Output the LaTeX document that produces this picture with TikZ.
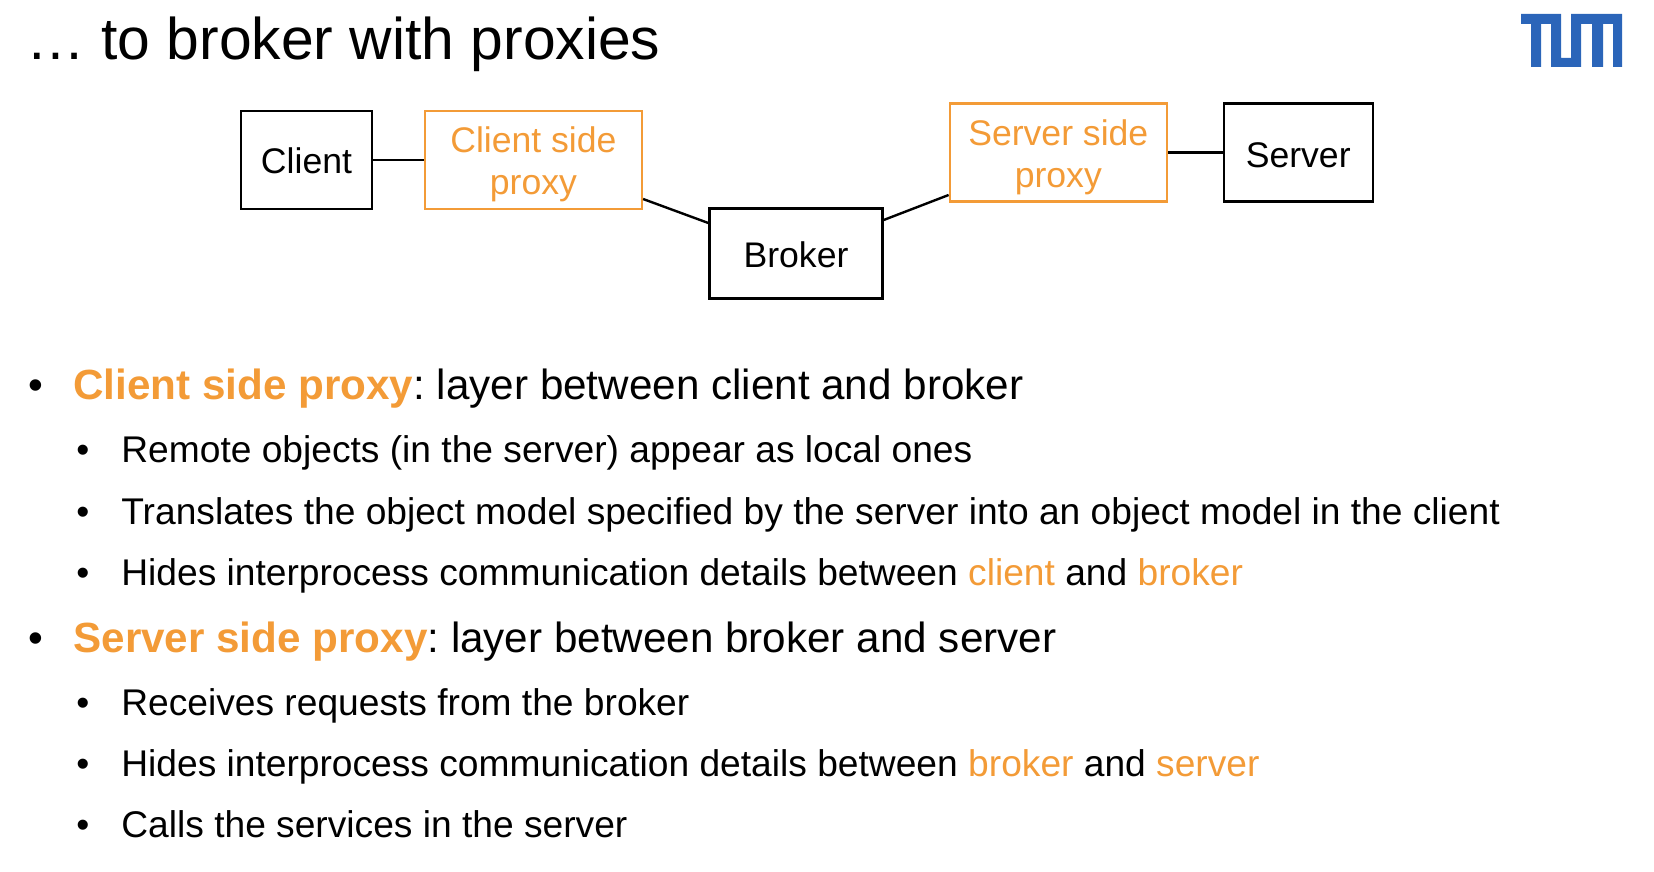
\documentclass[tikz,border=0pt]{standalone}
\usepackage{fontspec}
\setmainfont{Liberation Sans}
\usepackage{xcolor}
\usetikzlibrary{positioning}
\definecolor{proxyorange}{HTML}{F39B37}
\definecolor{tumblue}{HTML}{2B65B9}
\frenchspacing
\tikzset{
    x=0.5pt, y=-0.5pt,
    block/.style={draw, line width=1.2pt, inner sep=0pt, align=center, font=\fontsize{17.8}{21}\selectfont},
    proxybox/.style={block, draw=proxyorange, text=proxyorange},
    link/.style={line width=1.2pt},
    title/.style={anchor=base west, inner sep=0pt, font=\fontsize{29.4}{30}\selectfont},
    mainitem/.style={anchor=base west, inner sep=0pt, font=\fontsize{21.1}{24}\selectfont},
    subitem/.style={anchor=base west, inner sep=0pt, font=\fontsize{18.58}{22}\selectfont},
}
\newcommand{\hl}[1]{\textcolor{proxyorange}{#1}}
\newcommand{\firstline}[1]{\rule{0pt}{#1}}
\begin{document}
\begin{tikzpicture}
    \useasboundingbox (0,0) rectangle (1654,872);

    \node[title] (head) at (26,59.5) {… to broker with proxies};

    % logo
    \fill[tumblue] (1521,14) -- (1561,14) -- (1561,58) -- (1571,58) -- (1571,14) -- (1622,14)
    -- (1622,67) -- (1613,67) -- (1613,24) -- (1603,24) -- (1603,67) -- (1592,67) -- (1592,24)
    -- (1581,24) -- (1581,67) -- (1551,67) -- (1551,24) -- (1541,24) -- (1541,67) -- (1531,67)
    -- (1531,24) -- (1521,24) -- cycle;

    % boxes
    \node[block, minimum width=65.5pt, minimum height=49pt] (client) at (306.5,160) {\firstline{14pt}Client};
    \node[proxybox, minimum width=108.5pt, minimum height=49pt] (cproxy) at (533.4,160) {\firstline{16.7pt}Client side\\proxy};
    \node[block, minimum width=86.5pt, minimum height=45pt] (broker) at (796,253.5) {\firstline{14pt}Broker};
    \node[proxybox, minimum width=108.5pt, minimum height=49pt] (sproxy) at (1058.3,152.5) {\firstline{17.7pt}Server side\\proxy};
    \node[block, minimum width=74.5pt, minimum height=49pt] (server) at (1298.2,152.5) {\firstline{15pt}Server};

    \coordinate (cpout) at (cproxy.east |- 0,199);
    \coordinate (bin) at (broker.west |- 0,223);
    \coordinate (bout) at (broker.east |- 0,220);
    \coordinate (spin) at (sproxy.west |- 0,195);
    \draw[link] (client) -- (cproxy);
    \draw[link] (cpout) -- (bin);
    \draw[link] (bout) -- (spin);
    \draw[link] (sproxy) -- (server);

    % text
    \node[mainitem] (b1) at (28,399.5) {•};
    \node[mainitem] (t1) at (73,399.5) {\textbf{\hl{Client side proxy}}: layer between client and broker};
    \node[subitem] (b11) at (76,462) {•};
    \node[subitem] (t11) at (121,462) {Remote objects (in the server) appear as local ones};
    \node[subitem] (b12) at (76,524) {•};
    \node[subitem] (t12) at (121,524) {Translates the object model specified by the server into an object model in the client};
    \node[subitem] (b13) at (76,585) {•};
    \node[subitem] (t13) at (121,585) {Hides interprocess communication details between \hl{client} and \hl{broker}};
    \node[mainitem] (b2) at (28,652) {•};
    \node[mainitem] (t2) at (73,652) {\textbf{\hl{Server side proxy}}: layer between broker and server};
    \node[subitem] (b21) at (76,715) {•};
    \node[subitem] (t21) at (121,715) {Receives requests from the broker};
    \node[subitem] (b22) at (76,776) {•};
    \node[subitem] (t22) at (121,776) {Hides interprocess communication details between \hl{broker} and \hl{server}};
    \node[subitem] (b23) at (76,837) {•};
    \node[subitem] (t23) at (121,837) {Calls the services in the server};
\end{tikzpicture}
\end{document}
